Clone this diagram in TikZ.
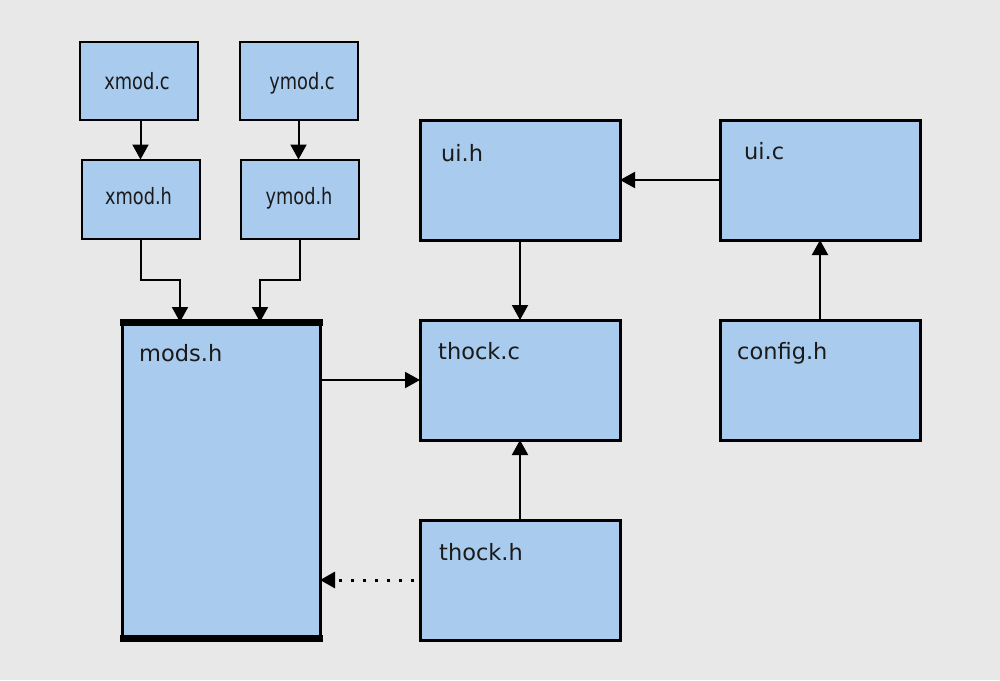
\documentclass[tikz,border=0pt]{standalone}
\usepackage{fontspec}
\setmainfont{DejaVu Sans}
\usetikzlibrary{arrows.meta,calc}
\definecolor{bg}{HTML}{E8E8E8}
\definecolor{boxfill}{HTML}{A9CBEE}
\definecolor{txt}{HTML}{1A1A1A}
\newcommand{\sq}[1]{\scalebox{0.79}[1]{#1}}
\tikzset{
  bigbox/.style={draw=black, fill=boxfill, line width=3pt, minimum width=200pt, minimum height=120pt, inner sep=0pt, outer sep=0pt},
  smallbox/.style={draw=black, fill=boxfill, line width=2pt, minimum width=118pt, minimum height=79pt, inner sep=0pt, outer sep=0pt},
  smalltxt/.style={anchor=base, inner sep=0pt, font=\fontsize{22.5}{26}\selectfont, text=txt},
  lbl/.style={anchor=base west, inner sep=0pt, font=\fontsize{22.5}{26}\selectfont, text=txt},
  arr/.style={line width=2pt, -{Triangle[length=15pt,width=16pt]}},
  dotarr/.style={line width=3pt, dash pattern=on 3pt off 9pt, shorten <=6pt, -{Triangle[length=15pt,width=16pt]}},
}
\begin{document}
\begin{tikzpicture}[x=1pt,y=-1pt]
\fill[bg] (0,0) rectangle (1000,680);
\useasboundingbox (0,0) rectangle (1000,680);
% small boxes
\node[smallbox, minimum height=78pt] (xmodc) at (138.5,80.5) {};
\node[smallbox, minimum height=78pt] (ymodc) at (298.5,80.5) {};
\node[smallbox] (xmodh) at (140.5,199) {};
\node[smallbox] (ymodh) at (299.5,199) {};
\node[smalltxt] (txmodc) at (137,89) {\sq{xmod.c}};
\node[smalltxt] (tymodc) at (302,89) {\sq{ymod.c}};
\node[smalltxt] (txmodh) at (138.5,204) {\sq{xmod.h}};
\node[smalltxt] (tymodh) at (299,204) {\sq{ymod.h}};
% big boxes
\node[bigbox, minimum width=198pt, minimum height=318pt] (modsh) at (221,480) {};
\fill[black] (119.5,319) rectangle (322.5,326);
\fill[black] (119.5,635) rectangle (322.5,642);
\node[bigbox] (uih) at (520,180) {};
\node[bigbox] (uic) at (820,180) {};
\node[bigbox] (thockc) at (520,380) {};
\node[bigbox] (configh) at (820,380) {};
\node[bigbox] (thockh) at (520,580) {};
% labels
\node[lbl] (lmods) at (139,361) {mods.h};
\node[lbl] (luih) at (441,161) {ui.h};
\node[lbl] (luic) at (744,159) {ui.c};
\node[lbl] (lthockc) at (438,359) {thock.c};
\node[lbl] (lconfig) at (737,359) {config.h};
\node[lbl] (lthockh) at (439,560) {thock.h};
% connectors
\draw[arr] (xmodh.north |- xmodc.south) -- (xmodh.north);
\draw[arr] (ymodc.south) -- (ymodc.south |- ymodh.north);
\draw[arr] (xmodh.south) -- ++(0,41) -| ([xshift=-41pt,yshift=-1pt]modsh.north);
\draw[arr] (ymodh.south) -- ++(0,41) -| ([xshift=39pt,yshift=-1pt]modsh.north);
\draw[arr] (modsh.east |- thockc.west) -- (thockc.west);
\draw[dotarr] (thockh.west) -- (modsh.east |- thockh.west);
\draw[arr] (thockh.north) -- (thockc.south);
\draw[arr] (uih.south) -- (thockc.north);
\draw[arr] (uic.west) -- (uih.east);
\draw[arr] (configh.north) -- (uic.south);
\end{tikzpicture}
\end{document}
